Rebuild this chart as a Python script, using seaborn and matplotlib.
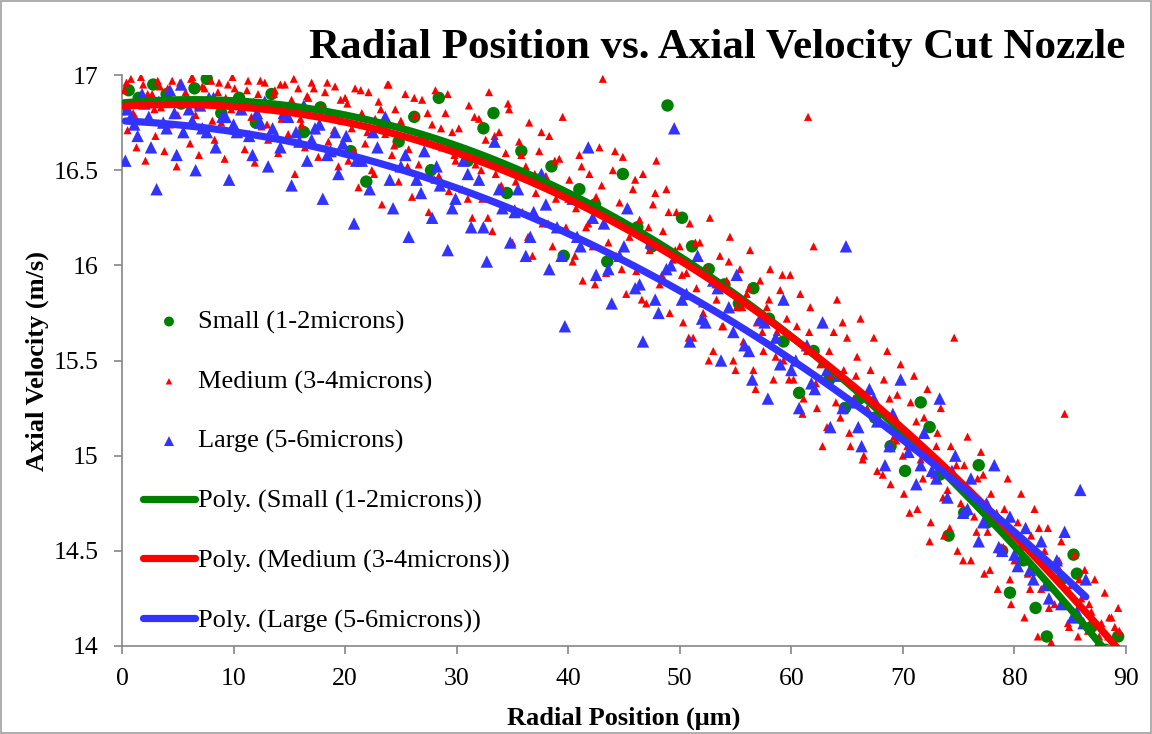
import matplotlib
matplotlib.use("Agg")
import matplotlib.pyplot as plt
import seaborn as sns
import pandas as pd
from matplotlib.patches import Rectangle

# ---------------- data ----------------
small_x = [0.2,0.6,1.5,2.8,4.0,5.3,6.5,7.6,8.9,10.5,12.0,13.4,14.8,16.3,17.8,19.0,20.5,21.9,23.3,24.8,
           26.2,27.7,28.4,29.6,31.0,32.4,33.3,34.5,35.8,37.2,38.5,39.6,41.0,42.4,43.5,44.9,46.2,47.5,48.9,50.2,
           51.1,52.6,54.0,55.3,56.6,58.0,59.3,60.7,62.0,63.4,64.8,66.1,67.5,68.9,70.2,71.6,72.4,73.3,74.1,75.5,
           76.8,77.6,78.9,79.6,80.8,81.9,82.9,84.2,85.3,85.6,86.9,88.2,89.3]
small_y = [16.82,16.92,16.88,16.95,16.90,16.85,16.93,16.98,16.80,16.88,16.75,16.90,16.82,16.70,16.83,16.78,16.60,16.44,16.72,16.65,
           16.78,16.50,16.88,16.62,16.55,16.72,16.80,16.38,16.60,16.45,16.52,16.05,16.40,16.32,16.02,16.48,16.20,16.10,16.84,16.25,
           16.10,15.98,15.90,15.80,15.88,15.72,15.60,15.33,15.55,15.40,15.25,15.30,15.20,15.05,14.92,15.28,15.15,14.90,14.58,14.70,
           14.95,14.65,14.50,14.28,14.45,14.20,14.05,14.35,14.48,14.38,14.10,13.98,14.05]

medium_x = [0.2,0.5,0.8,1.0,1.3,1.6,1.9,2.1,2.4,2.7,3.0,3.2,3.5,3.8,4.1,4.3,4.6,4.9,5.2,5.5,5.8,6.1,6.3,6.6,6.9,7.2,7.5,7.8,8.0,8.3,8.6,8.9,9.2,9.5,9.8,
            10.1,10.4,10.7,11.0,11.3,11.6,11.9,12.2,12.5,12.8,13.1,13.4,13.7,14.0,14.3,14.6,14.9,15.2,15.5,15.8,16.1,16.4,16.7,17.0,17.3,17.6,17.9,18.2,18.5,18.8,19.1,19.4,19.7,
            20.0,20.3,20.6,20.9,21.2,21.5,21.8,22.1,22.4,22.7,23.0,23.3,23.6,23.9,24.2,24.5,24.8,25.1,25.4,25.7,26.0,26.3,26.6,26.9,27.2,27.5,27.8,28.1,28.4,28.7,29.0,29.3,29.6,29.9,
            30.2,30.5,30.8,31.1,31.4,31.7,32.0,32.3,32.6,32.9,33.2,33.5,33.8,34.1,34.4,34.7,35.0,35.3,35.6,35.9,36.2,36.5,36.8,37.1,37.4,37.7,38.0,38.3,38.6,38.9,39.2,39.5,39.8,
            40.1,40.4,40.7,41.0,41.3,41.6,41.9,42.2,42.5,42.8,43.1,43.4,43.7,44.0,44.3,44.6,44.9,45.2,45.5,45.8,46.1,46.4,46.7,47.0,47.3,47.6,47.9,48.2,48.5,48.8,49.1,49.4,49.7,
            50.0,50.3,50.6,50.9,51.2,51.5,51.8,52.1,52.4,52.7,53.0,53.3,53.6,53.9,54.2,54.5,54.8,55.1,55.4,55.7,56.0,56.3,56.6,56.9,57.2,57.5,57.8,58.1,58.4,58.7,59.0,59.3,59.6,59.9,
            60.2,60.5,60.8,61.1,61.4,61.7,62.0,62.3,62.6,62.9,63.2,63.5,63.8,64.1,64.4,64.7,65.0,65.3,65.6,65.9,66.2,66.5,66.8,67.1,67.4,67.7,68.0,68.3,68.6,68.9,69.2,69.5,69.8,
            70.1,70.4,70.7,71.0,71.3,71.6,71.9,72.2,72.5,72.8,73.1,73.4,73.7,74.0,74.3,74.6,74.9,75.2,75.5,75.8,76.1,76.4,76.7,77.0,77.3,77.6,77.9,78.2,78.5,78.8,79.1,79.4,79.7,
            80.0,80.3,80.6,80.9,81.2,81.5,81.8,82.1,82.4,82.7,83.0,83.3,83.6,83.9,84.2,84.5,84.8,85.1,85.4,85.7,86.0,86.3,86.6,86.9,87.2,87.5,87.8,88.1,88.4,88.7,89.0,89.3,
            61.5]
medium_y = [16.92,16.71,16.98,16.80,16.62,16.88,16.95,16.55,16.77,16.90,16.68,16.97,16.83,16.60,16.93,16.74,16.86,16.52,16.96,16.70,16.89,16.64,16.99,16.79,16.58,16.94,16.72,16.87,16.97,16.66,16.91,16.75,16.56,16.95,16.82,
            16.93,16.70,16.85,16.61,16.97,16.78,16.54,16.90,16.73,16.96,16.66,16.84,16.92,16.59,16.77,16.95,16.69,16.87,16.48,16.93,16.74,16.62,16.88,16.96,16.71,16.57,16.83,16.91,16.65,16.79,16.94,16.52,16.76,
            16.88,16.55,16.72,16.93,16.41,16.80,16.64,16.91,16.50,16.77,16.86,16.32,16.69,16.95,16.58,16.82,16.44,16.74,16.90,16.61,16.36,16.79,16.53,16.87,16.67,16.28,16.74,16.92,16.47,16.62,16.80,16.39,16.70,16.55,
            16.72,16.40,16.60,16.84,16.25,16.53,16.77,16.35,16.66,16.91,16.18,16.48,16.70,16.30,16.59,16.82,16.12,16.44,16.65,16.28,16.52,16.75,16.05,16.38,16.60,16.22,16.47,16.68,16.10,16.35,16.56,16.78,16.20,
            16.45,16.02,16.30,16.58,15.92,16.20,16.48,16.10,16.36,16.62,16.98,15.96,16.25,16.50,16.05,16.33,16.57,15.85,16.15,16.40,15.97,16.24,16.48,15.80,16.08,16.32,16.55,15.90,16.18,16.40,15.75,16.03,16.28,
            16.10,15.70,15.96,16.22,15.62,15.88,16.12,15.75,15.98,16.25,15.55,15.82,16.05,15.68,15.92,16.15,15.50,15.78,15.98,15.60,15.85,16.08,15.45,15.70,15.92,15.55,15.78,15.98,15.40,15.65,15.87,15.50,15.72,15.95,
            15.40,15.68,15.85,15.30,15.55,15.78,16.10,15.25,15.48,15.70,15.15,15.42,15.65,15.82,15.20,15.45,15.62,15.05,15.30,15.52,15.72,15.00,15.25,15.45,15.62,14.92,15.18,15.40,15.55,14.85,15.10,15.32,15.48,
            14.80,15.05,15.28,15.42,14.72,14.98,15.20,15.35,14.65,14.90,15.12,15.25,14.58,14.82,15.05,15.62,14.50,14.75,14.95,15.10,14.45,14.68,14.88,15.02,14.38,14.60,14.80,14.95,14.30,14.52,14.72,14.88,14.22,
            14.45,14.65,14.80,14.15,14.38,14.58,14.72,14.05,14.30,14.50,14.62,14.02,14.22,14.42,14.55,15.22,14.12,14.32,14.48,14.05,14.25,14.40,14.08,14.18,14.35,14.02,14.12,14.28,14.05,14.15,14.10,14.20,
            16.78]
medium_x_more = [0.4,0.9,1.2,1.7,2.3,2.9,3.4,3.9,4.5,5.0,5.7,6.2,6.8,7.4,8.1,8.7,9.3,9.9,10.6,11.2,11.8,12.4,13.0,13.6,14.2,14.8,15.4,16.0,16.6,17.2,17.8,18.4,19.0,19.6,
                 20.2,20.8,21.4,22.0,22.6,23.2,23.8,24.4,25.0,25.6,26.2,26.8,27.4,28.0,28.6,29.2,29.8,
                 30.4,31.0,31.6,32.2,32.8,33.4,34.0,34.6,35.2,35.8,36.4,37.0,37.6,38.2,38.8,39.4,
                 40.0,40.6,41.2,41.8,42.4,43.0,43.6,44.2,44.8,45.4,46.0,46.6,47.2,47.8,48.4,49.0,49.6,
                 50.2,50.8,51.4,52.0,52.6,53.2,53.8,54.4,55.0,55.6,56.2,56.8,57.4,58.0,58.6,59.2,59.8,
                 60.4,61.0,61.6,62.2,62.8,63.4,64.0,64.6,65.2,65.8,66.4,67.0,67.6,68.2,68.8,69.4,
                 70.0,70.6,71.2,71.8,72.4,73.0,73.6,74.2,74.8,75.4,76.0,76.6,77.2,77.8,78.4,79.0,79.6,
                 80.5,81.4,82.2,83.1,84.0,84.9,85.8,86.7,87.6,88.5,89.4]
medium_y_more = [16.96,16.85,16.78,16.99,16.90,16.82,16.94,16.87,16.97,16.79,16.91,16.98,16.84,16.93,16.76,16.96,16.88,16.99,16.81,16.92,16.86,16.97,16.74,16.90,16.95,16.83,16.98,16.77,16.89,16.93,16.80,16.96,16.71,16.87,
                 16.85,16.60,16.92,16.70,16.48,16.82,16.95,16.63,16.76,16.52,16.88,16.68,16.80,16.45,16.72,16.90,16.58,
                 16.62,16.35,16.78,16.50,16.25,16.68,16.42,16.85,16.30,16.58,16.15,16.48,16.70,16.22,16.55,16.38,
                 16.35,16.05,16.52,16.22,15.90,16.42,16.12,16.60,15.98,16.30,16.45,15.82,16.20,16.38,15.95,16.28,16.08,
                 15.95,15.62,16.12,15.80,15.50,15.90,15.68,16.02,15.45,15.78,15.88,15.35,15.65,15.82,15.52,15.95,15.40,
                 15.50,15.22,15.65,15.38,15.05,15.55,15.28,15.70,15.12,15.42,14.98,15.35,15.20,14.90,15.30,15.08,
                 15.00,14.70,15.18,14.88,14.55,15.05,14.78,14.62,14.95,14.45,14.82,14.60,14.90,14.40,14.70,14.52,14.35,
                 14.52,14.30,14.62,14.20,14.45,14.10,14.35,14.22,14.05,14.15,14.08]

large_x = [0.3,0.8,1.4,2.0,2.6,3.1,3.7,4.3,4.9,5.5,6.0,6.6,7.2,7.8,8.4,9.0,9.6,10.3,11.0,11.7,12.4,13.1,13.8,14.5,15.2,15.9,16.6,17.3,18.0,18.7,
           19.4,20.1,20.8,21.5,22.2,22.9,23.6,24.3,25.0,25.7,26.4,27.1,27.8,28.5,29.2,29.9,30.6,31.3,32.0,32.7,33.4,34.1,34.8,35.5,36.2,36.9,37.6,38.3,39.0,39.7,
           40.4,41.1,41.8,42.5,43.2,43.9,44.6,45.3,46.0,46.7,47.4,48.1,48.8,49.5,50.2,50.9,51.6,52.3,53.0,53.7,54.4,55.1,55.8,56.5,57.2,57.9,58.6,59.3,60.0,60.7,
           61.4,62.1,62.8,63.5,64.2,64.9,65.6,66.3,67.0,67.7,68.4,69.1,69.8,70.5,71.2,71.9,72.6,73.3,74.0,74.7,75.4,76.1,76.8,77.5,78.2,78.9,79.6,80.3,81.0,81.7,
           82.4,83.1,83.8,84.5,85.2,85.9,86.4]
large_y = [16.55,16.78,16.68,16.85,16.62,16.40,16.75,16.92,16.58,16.70,16.82,16.50,16.72,16.88,16.62,16.78,16.45,16.70,16.85,16.58,16.75,16.52,16.68,16.80,16.42,16.65,16.55,16.72,16.35,16.60,
           16.48,16.68,16.22,16.55,16.40,16.62,16.78,16.30,16.52,16.15,16.45,16.60,16.25,16.42,16.08,16.35,16.55,16.20,16.45,16.02,16.65,16.30,16.12,16.40,16.05,16.28,16.48,15.98,16.20,15.68,
           16.35,16.10,16.62,15.95,16.22,15.80,16.05,16.30,15.88,15.60,16.12,15.75,15.98,16.72,15.82,15.60,16.05,15.70,15.92,15.50,15.78,15.95,15.58,15.40,15.72,15.30,15.62,15.82,15.45,15.25,
           15.58,15.35,15.70,15.15,15.42,16.10,15.28,15.05,15.35,15.18,14.95,15.22,15.40,15.02,14.85,15.12,14.92,15.30,14.78,15.00,14.70,14.88,14.55,14.75,14.95,14.50,14.68,14.42,14.62,14.35,
           14.55,14.25,14.45,14.60,14.15,14.82,14.35]
large_x_more = [0.5,1.1,1.8,2.4,3.3,4.0,4.7,5.3,6.3,7.0,7.6,8.2,9.3,10.0,10.7,11.4,12.1,12.8,13.5,14.2,14.9,15.6,16.3,17.0,17.7,18.4,19.1,19.8,
                21.0,22.5,24.0,25.4,26.8,28.2,29.6,31.0,32.4,33.8,35.2,36.6,38.0,39.4,
                40.8,42.2,43.6,45.0,46.4,47.8,49.2,50.6,52.0,53.4,54.8,56.2,57.6,59.0,
                60.4,61.8,63.2,64.6,66.0,67.4,68.8,70.2,71.6,73.0,74.4,75.8,77.2,78.6,80.0,81.4,82.8,84.2,85.6,86.2]
large_y_more = [16.82,16.74,16.90,16.78,16.86,16.72,16.80,16.95,16.76,16.84,16.70,16.88,16.78,16.74,16.82,16.68,16.80,16.86,16.72,16.62,16.78,16.70,16.84,16.66,16.74,16.58,16.70,16.64,
                16.55,16.70,16.45,16.58,16.38,16.52,16.30,16.48,16.20,16.40,16.28,16.15,16.32,16.05,
                16.15,16.25,15.98,16.10,15.90,15.82,16.00,15.85,15.72,15.88,15.65,15.55,15.70,15.48,
                15.50,15.38,15.45,15.25,15.15,15.30,15.05,15.12,14.95,14.88,14.92,14.72,14.65,14.52,14.48,14.40,14.32,14.22,14.18,14.12]

x_ticks = [0, 10, 20, 30, 40, 50, 60, 70, 80, 90]
y_ticks = [14, 14.5, 15, 15.5, 16, 16.5, 17]
y_tick_labels = ["14", "14.5", "15", "15.5", "16", "16.5", "17"]

labels = ["Small (1-2microns)", "Medium (3-4microns)", "Large (5-6microns)"]
colors = ["#008000", "#FF0000", "#3333FF"]

# ---------------- figure ----------------
sns.set_theme(style="white")
plt.rcParams["font.family"] = ["Liberation Serif", "DejaVu Serif"]
plt.rcParams["text.color"] = "black"
plt.rcParams["axes.labelcolor"] = "black"
plt.rcParams["xtick.labelcolor"] = "black"
plt.rcParams["ytick.labelcolor"] = "black"

fig = plt.figure(figsize=(11.52, 7.34), dpi=100)
ax = fig.add_axes([0.1059, 0.1199, 0.8715, 0.7779])

small = pd.DataFrame({"x": small_x, "y": small_y})
medium = pd.DataFrame({"x": medium_x + medium_x_more, "y": medium_y + medium_y_more})
large = pd.DataFrame({"x": large_x + large_x_more, "y": large_y + large_y_more})
frames = [small, medium, large]

sns.scatterplot(data=small, x="x", y="y", ax=ax, color=colors[0], marker="o", s=80,
                edgecolor="none", label=labels[0], zorder=2)
sns.scatterplot(data=medium, x="x", y="y", ax=ax, color=colors[1], marker="^", s=34,
                edgecolor="none", label=labels[1], zorder=3)
sns.scatterplot(data=large, x="x", y="y", ax=ax, color=colors[2], marker="^", s=80,
                edgecolor="none", label=labels[2], zorder=4)

fit_lines = []
for df, lab, col, z in zip(frames, labels, colors, [5, 6, 7]):
    n_before = len(ax.lines)
    sns.regplot(data=df, x="x", y="y", ax=ax, order=2, ci=None, scatter=False, truncate=True,
                line_kws={"color": col, "lw": 5.2, "solid_capstyle": "round", "zorder": z})
    ln = ax.lines[n_before]
    ln.set_label(f"Poly. ({lab})")
    fit_lines.append(ln)

ax.set_xlim(0, 90)
ax.set_ylim(14, 17)
ax.set_xticks(x_ticks)
ax.set_xticklabels([str(t) for t in x_ticks])
ax.set_yticks(y_ticks)
ax.set_yticklabels(y_tick_labels)
ax.tick_params(axis="both", which="major", labelsize=18.5, length=6, width=1.2,
               color="#868686", direction="out", bottom=True, left=True)
ax.tick_params(axis="x", pad=10)
ax.tick_params(axis="y", pad=11)

for side in ["top", "right"]:
    ax.spines[side].set_visible(False)
for side in ["left", "bottom"]:
    ax.spines[side].set_color("#868686")
    ax.spines[side].set_linewidth(1.2)

ax.set_xlabel("Radial Position (μm)", fontsize=19, fontweight="bold", labelpad=12)
ax.set_ylabel("Axial Velocity (m/s)", fontsize=19, fontweight="bold", labelpad=3)

fig.text(0.6224, 0.934, "Radial Position vs. Axial Velocity Cut Nozzle",
         ha="center", va="center", fontsize=31, fontweight="bold")

handles, labs = ax.get_legend_handles_labels()
sc_handles = [handles[labs.index(l)] for l in labels]
leg = ax.legend(sc_handles + fit_lines, labels + [f"Poly. ({l})" for l in labels],
                loc="upper left", bbox_to_anchor=(0.01, 0.607), borderaxespad=0,
                frameon=False, fontsize=19, labelspacing=1.36, handlelength=2.0,
                handletextpad=0.1, markerscale=0.8)

# outer chart border
fig.patches.append(Rectangle((0.001, 0.001), 0.998, 0.998, transform=fig.transFigure,
                             fill=False, edgecolor="#A0A0A0", lw=1.2))

fig.savefig("out.png", dpi=100)
